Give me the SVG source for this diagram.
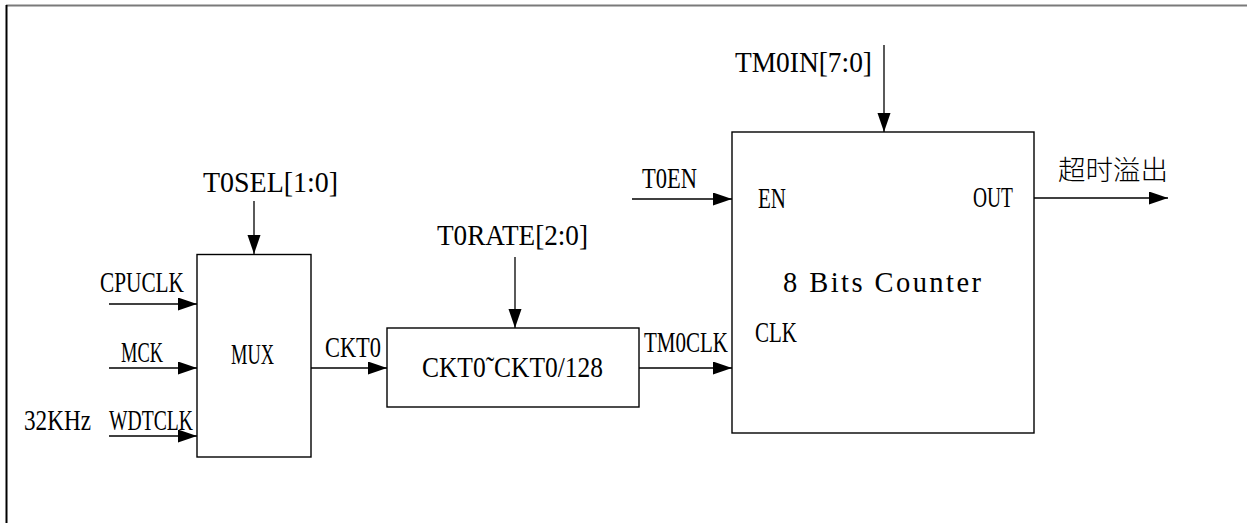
<svg xmlns="http://www.w3.org/2000/svg" width="1247" height="523" viewBox="0 0 1247 523">
<style>
text{font-family:"Liberation Serif","Times New Roman",serif;font-size:28.5px;fill:#000}
.cjk{font-family:"Noto Sans CJK SC",sans-serif;font-size:27px;font-weight:300}
.box{fill:#fff;stroke:#000;stroke-width:1.4}
.wire{fill:none;stroke:#000;stroke-width:1.3}
</style>
<defs>
<marker id="arr" markerUnits="userSpaceOnUse" markerWidth="20" markerHeight="14" refX="19" refY="6.5" orient="auto">
<path d="M0,0 L19,6.5 L0,13 Z" fill="#000"/>
</marker>
</defs>
<rect width="1247" height="523" fill="#fff"/>
<line x1="6" y1="5.5" x2="1247" y2="5.5" stroke="#7a7a7a" stroke-width="2"/>
<line x1="6.5" y1="5" x2="6.5" y2="523" stroke="#000" stroke-width="2"/>

<g id="mux">
<rect class="box" x="197" y="254.5" width="114" height="202.5"/>
<text x="231" y="364" textLength="43" lengthAdjust="spacingAndGlyphs">MUX</text>
</g>
<g id="divider">
<rect class="box" x="387" y="328" width="252" height="79"/>
<text x="422" y="377" textLength="181" lengthAdjust="spacingAndGlyphs">CKT0˜CKT0/128</text>
</g>
<g id="counter">
<rect class="box" x="732" y="132" width="302" height="301"/>
<text x="758" y="208" textLength="28" lengthAdjust="spacingAndGlyphs">EN</text>
<text x="973" y="207" textLength="40" lengthAdjust="spacingAndGlyphs">OUT</text>
<text x="783" y="292" font-size="29" textLength="198" lengthAdjust="spacing">8 Bits Counter</text>
<text x="755" y="342" textLength="42" lengthAdjust="spacingAndGlyphs">CLK</text>
</g>

<g id="labels">
<text x="203" y="192" textLength="135" lengthAdjust="spacingAndGlyphs">T0SEL[1:0]</text>
<text x="100" y="292" textLength="84" lengthAdjust="spacingAndGlyphs">CPUCLK</text>
<text x="121" y="362" textLength="42" lengthAdjust="spacingAndGlyphs">MCK</text>
<text x="24" y="430" textLength="67" lengthAdjust="spacingAndGlyphs">32KHz</text>
<text x="109" y="430" textLength="84" lengthAdjust="spacingAndGlyphs">WDTCLK</text>
<text x="325" y="357" textLength="56" lengthAdjust="spacingAndGlyphs">CKT0</text>
<text x="437" y="245" textLength="151" lengthAdjust="spacingAndGlyphs">T0RATE[2:0]</text>
<text x="644" y="352" textLength="84" lengthAdjust="spacingAndGlyphs">TM0CLK</text>
<text x="735" y="72" textLength="137" lengthAdjust="spacingAndGlyphs">TM0IN[7:0]</text>
<text x="642" y="188" textLength="55" lengthAdjust="spacingAndGlyphs">T0EN</text>
<text class="cjk" x="1058" y="180" textLength="110" lengthAdjust="spacingAndGlyphs">超时溢出</text>
</g>

<g id="connectors">
<path class="wire" d="M254 201 V254" marker-end="url(#arr)"/>
<path class="wire" d="M109 304 H197" marker-end="url(#arr)"/>
<path class="wire" d="M109 368 H197" marker-end="url(#arr)"/>
<path class="wire" d="M109 436 H197" marker-end="url(#arr)"/>
<path class="wire" d="M311 368 H387" marker-end="url(#arr)"/>
<path class="wire" d="M515 257 V328" marker-end="url(#arr)"/>
<path class="wire" d="M639 368 H732" marker-end="url(#arr)"/>
<path class="wire" d="M884 45 V132" marker-end="url(#arr)"/>
<path class="wire" d="M632 199 H732" marker-end="url(#arr)"/>
<path class="wire" d="M1034 198 H1168" marker-end="url(#arr)"/>
</g>
</svg>
